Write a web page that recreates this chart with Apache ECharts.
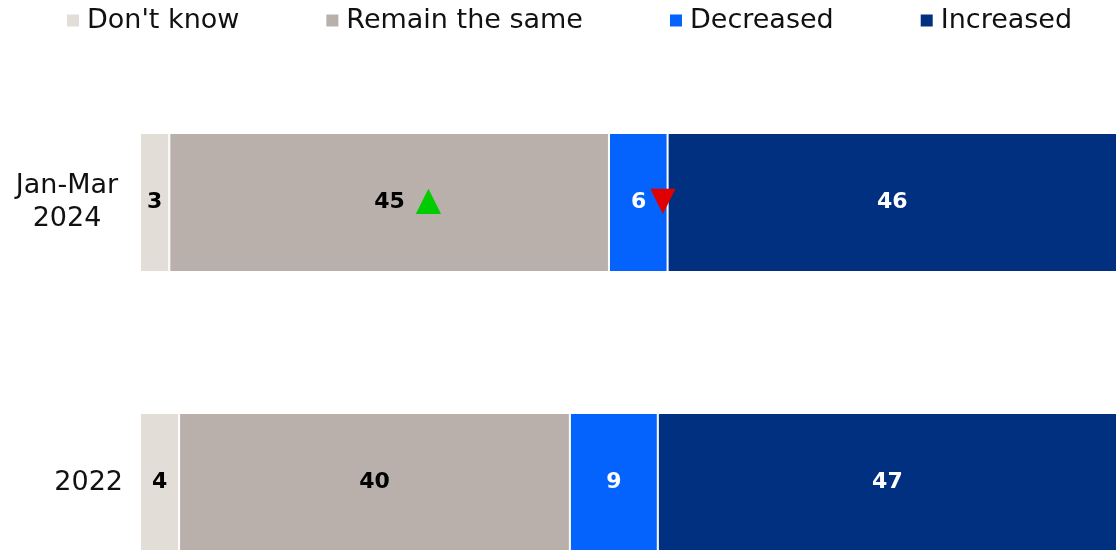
<!DOCTYPE html>
<html>
<head>
<meta charset="utf-8">
<script src="https://cdn.jsdelivr.net/npm/echarts@6/dist/echarts.min.js"></script>
<style>html,body{margin:0;padding:0;background:#fff}#c{width:1117px;height:550px}</style>
</head>
<body>
<div id="c"></div>
<script>
const categories = ['Jan-Mar\n2024', '2022'];
const seriesNames = ["Don't know", 'Remain the same', 'Decreased', 'Increased'];
const dontKnow = [3, 4];
const remainSame = [45, 40];
const decreased = [6, 9];
const increased = [46, 47];
// significance markers per category ('up' / 'down' / '')
const dontKnowSig = ['', ''];
const remainSameSig = ['up', ''];
const decreasedSig = ['down', ''];
const increasedSig = ['', ''];

const colors = ['#e3ddd7', '#b9b0ab', '#0563fd', '#00307f'];
const labelColors = ['#000', '#000', '#fff', '#fff'];
const values = [dontKnow, remainSame, decreased, increased];
const sigs = [dontKnowSig, remainSameSig, decreasedSig, increasedSig];

const chart = echarts.init(document.getElementById('c'));
const series = seriesNames.map((name, si) => ({
  name: name,
  type: 'bar',
  stack: 'total',
  barWidth: 139,
  data: values[si],
  itemStyle: { color: colors[si], borderColor: '#fff', borderWidth: 1 },
  label: {
    show: true,
    position: 'inside',
    formatter: p => {
      const s = sigs[si][p.dataIndex];
      if (s === 'up') return '{padU|}{v|' + p.value + '}{gU|}{up|▲}';
      if (s === 'down') return '{padD|}{v|' + p.value + '}{gD|}{dn|▼}';
      return '{v|' + p.value + '}';
    },
    rich: {
      v: { fontFamily: 'DejaVu Sans', fontWeight: 'bold', fontSize: 22, color: labelColors[si] },
      up: { fontFamily: 'DejaVu Sans', fontSize: 33, color: '#00cc00', padding: [0, 0, 2, 0] },
      dn: { fontFamily: 'DejaVu Sans', fontSize: 33, color: '#e00000', padding: [0, 0, 2, 0] },
      gU: { width: 11 },
      gD: { width: 4 },
      padU: { width: 37 },
      padD: { width: 30 }
    }
  }
}));

chart.setOption({
  animation: false,
  legend: {
    data: seriesNames,
    left: 60,
    top: 2,
    itemGap: 85,
    itemWidth: 14,
    itemHeight: 14,
    icon: 'rect',
    textStyle: { fontFamily: 'DejaVu Sans', fontSize: 27, color: '#111', padding: [0, 0, 0, 2] }
  },
  grid: { left: 140, right: 0, top: 62.5, height: 560, containLabel: false, outerBoundsMode: 'none' },
  xAxis: { type: 'value', min: 0, max: 100, show: false },
  yAxis: {
    type: 'category',
    inverse: true,
    data: categories,
    axisLine: { show: false },
    axisTick: { show: false },
    axisLabel: {
      margin: 17,
      align: 'right',
      formatter: v => v.indexOf('\n') >= 0
        ? v.split('\n').map(l => '{c|' + l + '}').join('\n')
        : '{r|' + v + '}',
      rich: {
        c: { fontFamily: 'DejaVu Sans', fontSize: 27, color: '#111', width: 112, align: 'center', lineHeight: 33 },
        r: { fontFamily: 'DejaVu Sans', fontSize: 27, color: '#111', lineHeight: 33 }
      }
    }
  },
  series: series
});
</script>
</body>
</html>
